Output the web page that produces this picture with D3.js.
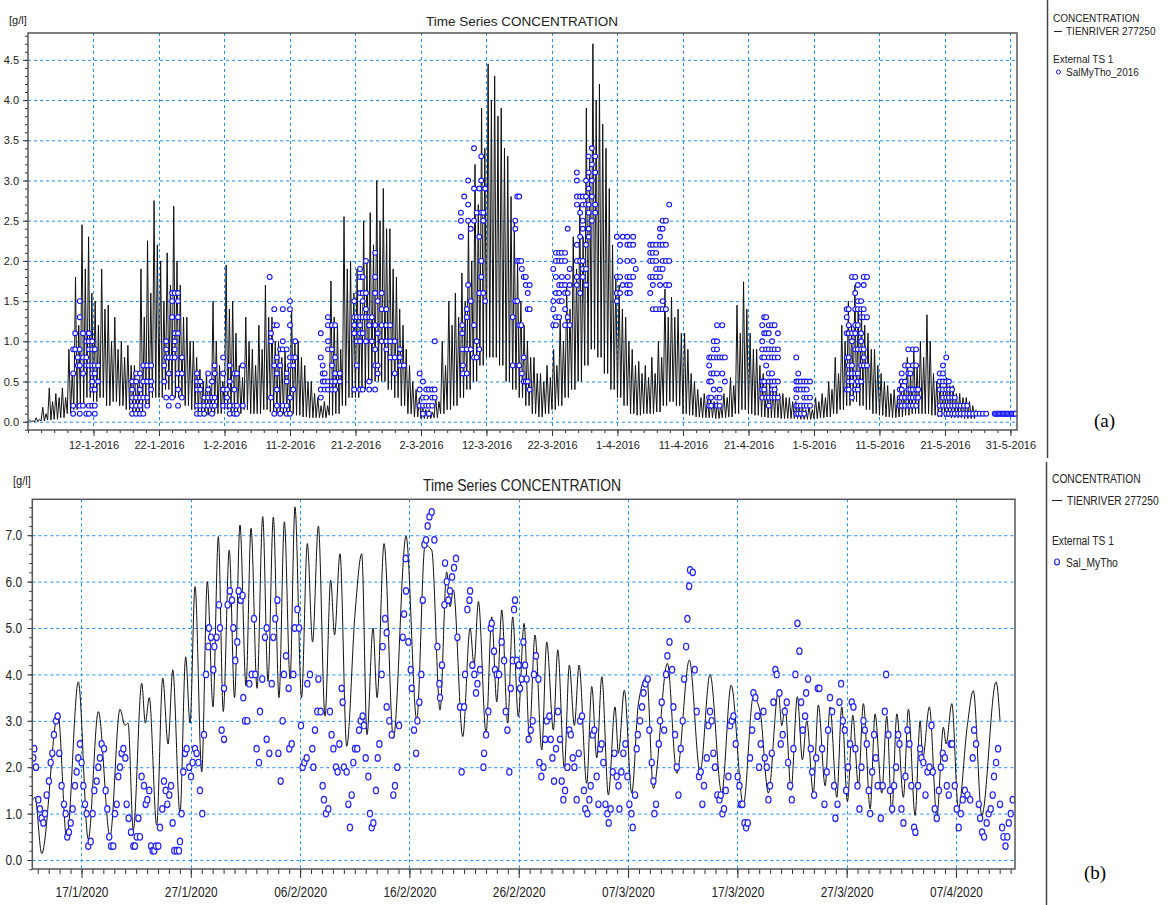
<!DOCTYPE html>
<html>
<head>
<meta charset="utf-8">
<script src="https://cdn.jsdelivr.net/npm/d3@7"></script>
<style>
body { margin: 0; background: #fff; }
svg text { font-family: "Liberation Sans", Arial, sans-serif; fill: #222; }
</style>
</head>
<body>
<svg id="chart" width="1169" height="905"></svg>
<script>
const DAY = 864e5;

// ---------- panel (a): 2016, days counted from 2 Jan 2016 ----------
const topStart = Date.UTC(2016, 0, 2);
const topLabels = ["12-1-2016", "22-1-2016", "1-2-2016", "11-2-2016", "21-2-2016", "2-3-2016", "12-3-2016",
  "22-3-2016", "1-4-2016", "11-4-2016", "21-4-2016", "1-5-2016", "11-5-2016", "21-5-2016", "31-5-2016"];

// TIENRIVER 277250 [g/l]: per day the higher tidal peak, the lower one, and the trough
const topPeaks = [0.02,0.05,0.18,0.42,0.35,0.42,0.9,1.8,2.45,2.3,
  1.5,1.9,1.45,1.3,1.0,0.95,0.7,1.9,2.25,2.75,
  2.0,2.1,2.68,1.7,1.3,1.0,0.65,0.6,1.5,0.7,
  1.95,1.5,0.7,1.3,0.9,1.2,1.7,1.3,1.0,0.9,
  1.4,1.0,0.7,0.5,0.3,0.25,1.75,1.2,2.55,2.0,
  1.9,2.5,2.6,3.0,2.9,2.4,1.8,1.2,0.7,0.4,
  0.2,0.15,0.3,1.0,1.5,1.6,1.85,2.5,3.2,3.9,
  4.45,4.3,3.9,3.3,2.5,1.5,1.0,0.8,0.6,0.7,
  0.9,1.3,1.7,2.3,2.7,3.9,4.7,4.2,3.4,2.2,
  1.7,1.3,0.9,0.75,0.7,0.8,1.0,1.65,1.55,1.4,
  1.1,0.6,0.4,0.35,0.3,0.25,0.35,0.55,1.45,1.74,
  1.1,0.9,0.6,0.5,0.45,0.35,0.3,0.25,0.2,0.2,
  0.3,0.35,0.5,0.8,1.2,1.5,1.7,1.4,1.1,0.9,
  0.6,0.45,0.4,0.5,0.8,0.9,1.0,1.33,0.6,0.5,
  0.55,0.45,0.35,0.3,0.2];
const topPeaks2 = [0.01,0.03,0.1,0.25,0.3,0.3,0.6,1.2,1.9,1.6,
  1.2,1.4,1.0,0.9,0.8,0.7,0.5,1.3,1.6,2.2,
  1.5,1.7,2.0,1.3,1.0,0.8,0.5,0.45,1.0,0.5,
  1.4,1.1,0.55,1.0,0.7,0.9,1.3,1.0,0.8,0.7,
  1.0,0.8,0.5,0.35,0.2,0.2,1.3,0.9,1.9,1.6,
  1.5,2.0,2.2,2.5,2.4,1.9,1.4,0.9,0.5,0.3,
  0.15,0.12,0.25,0.7,1.2,1.3,1.5,2.0,2.7,3.4,
  4.0,3.8,3.4,2.8,2.0,1.2,0.8,0.6,0.5,0.55,
  0.7,1.0,1.4,1.9,2.3,3.3,4.0,3.7,2.9,1.8,
  1.4,1.0,0.7,0.6,0.55,0.6,0.8,1.3,1.3,1.1,
  0.9,0.5,0.3,0.3,0.25,0.2,0.3,0.45,1.1,1.4,
  0.9,0.7,0.5,0.4,0.35,0.3,0.25,0.2,0.15,0.15,
  0.25,0.3,0.4,0.6,1.0,1.2,1.4,1.2,0.9,0.7,
  0.5,0.35,0.3,0.4,0.6,0.7,0.8,1.0,0.5,0.4,
  0.45,0.35,0.3,0.25,0.15];
const topLows = [0,0,0.01,0.02,0.03,0.05,0.1,0.15,0.2,0.3,
  0.25,0.3,0.2,0.25,0.2,0.15,0.1,0.1,0.2,0.3,
  0.3,0.4,0.3,0.3,0.2,0.15,0.1,0.08,0.1,0.1,
  0.15,0.1,0.1,0.15,0.1,0.1,0.15,0.12,0.1,0.1,
  0.1,0.08,0.06,0.05,0.05,0.05,0.08,0.1,0.2,0.3,
  0.3,0.4,0.5,0.5,0.5,0.4,0.3,0.2,0.1,0.06,
  0.04,0.04,0.05,0.1,0.15,0.2,0.3,0.4,0.5,0.7,
  0.8,0.8,0.7,0.5,0.4,0.3,0.2,0.1,0.06,0.1,
  0.15,0.2,0.3,0.4,0.5,0.7,0.9,0.8,0.6,0.4,
  0.3,0.2,0.1,0.08,0.1,0.1,0.12,0.2,0.25,0.2,
  0.1,0.08,0.06,0.05,0.05,0.04,0.05,0.06,0.1,0.15,
  0.1,0.08,0.06,0.05,0.05,0.04,0.04,0.04,0.03,0.03,
  0.04,0.05,0.06,0.1,0.15,0.2,0.25,0.2,0.15,0.1,
  0.08,0.06,0.05,0.06,0.08,0.1,0.1,0.1,0.08,0.06,
  0.06,0.05,0.05,0.04,0.04];

// SalMyTho_2016 samples: [day, readings taken around that day]
const topObs = [
  [6.9,[0.9,0.6,0.2,0.1]],[7.2,[1.1,0.9]],[7.6,[0.8,0.7]],[7.9,[1.5,1.3,0.9,0.7,0.2,0.1]],
  [8.4,[1.1,0.8,0.6,0.2]],[8.9,[1.0,0.8,0.7,0.1]],[9.3,[1.1,1.0,0.9,0.7,0.2,0.1]],
  [9.8,[1.0,0.9,0.7,0.6,0.5,0.4,0.2]],[10.2,[0.9,0.7,0.6,0.4,0.2,0.1]],[10.7,[0.7,0.5]],
  [15.9,[0.5,0.4,0.3,0.2,0.1]],[16.5,[0.6,0.5,0.3,0.2,0.1]],[17.1,[0.6,0.4,0.3,0.2,0.1]],
  [17.6,[0.7,0.5,0.3,0.1]],[18.2,[0.7,0.5,0.3,0.2]],[18.8,[0.7,0.5,0.4]],
  [20.8,[0.7,0.5]],[21.1,[1.0,0.9,0.8,0.3]],[21.5,[0.8,0.6,0.2]],[22.0,[1.6,1.5,1.3,0.8,0.3]],
  [22.4,[1.6,1.1,1.0,0.9,0.8]],[22.9,[1.6,1.5,1.3,1.1,0.6,0.4,0.2]],[23.5,[0.8,0.6,0.3]],
  [25.8,[0.6,0.5,0.4,0.2,0.1]],[26.3,[0.5,0.4,0.2,0.1]],[26.9,[0.3,0.2,0.1]],[27.5,[0.6,0.4,0.3,0.2]],
  [28.1,[0.5,0.3,0.2,0.1]],[28.5,[0.7,0.6,0.3,0.2]],[29.8,[0.8,0.6,0.4,0.2]],[30.4,[0.4,0.3,0.2]],
  [30.8,[0.7,0.5,0.2,0.1]],[31.5,[0.6,0.4,0.2,0.1]],[31.9,[0.6,0.2,0.1]],[32.8,[0.7,0.2]],
  [36.9,[1.8]],[37.1,[1.1,1.0,0.3]],[37.6,[1.4,1.2,0.7,0.1]],[38.0,[1.2,0.8,0.6,0.4,0.2]],
  [38.5,[0.9,0.7,0.1]],[38.9,[1.4,1.0,0.9,0.2]],[39.5,[0.9,0.6,0.5,0.2,0.1]],
  [40.0,[1.5,1.4,1.2,0.8,0.7,0.3,0.1]],[40.5,[0.8,0.7,0.4]],[40.8,[1.0,0.8]],
  [44.7,[1.1,0.8,0.4,0.3]],[45.0,[0.7,0.6,0.5]],[45.3,[0.6,0.5,0.4]],[45.8,[1.3,1.2,1.0,0.9,0.5,0.4]],
  [46.4,[1.2,0.9,0.7,0.5,0.4]],[46.9,[1.2,0.8,0.6,0.5,0.4]],[47.6,[0.6,0.5]],
  [49.8,[1.5,1.3,1.2,1.1,0.4]],[50.2,[1.3,1.0,0.7]],[50.7,[1.9,1.8,1.6,1.3,1.2,1.1,1.0,0.4]],
  [51.1,[1.8,1.6,1.5,1.3,1.1,0.4]],[51.6,[2.0,1.6,1.4,1.3,1.0]],[52.1,[1.3,1.2,0.5,0.4]],
  [52.5,[1.3,1.0]],[53.0,[2.1,1.8,1.6,1.2,0.9,0.7,0.4]],[53.4,[1.5,1.1,0.7,0.6]],
  [54.0,[1.6,1.4,1.2,1.0]],[54.7,[1.4,1.2,1.0,0.9]],[55.3,[1.2,1.0,0.8]],[56.0,[1.0,0.8,0.6]],
  [56.8,[0.9,0.8,0.7]],[57.4,[0.7]],
  [59.8,[0.6,0.4,0.2]],[60.3,[0.5,0.3,0.2,0.1]],[60.8,[0.4,0.3,0.2]],[61.2,[0.4,0.2,0.1]],
  [61.7,[0.4,0.3,0.2]],[62.1,[1.0,0.4,0.3]],
  [66.1,[2.6,2.5,2.3]],[66.3,[1.2,1.1,0.9]],[66.4,[0.7,0.6]],[66.6,[2.8]],[67.0,[1.4,1.3,0.9,0.6]],
  [67.2,[3.0,2.7,2.5,1.7]],[67.6,[2.4,1.5,0.9]],[68.1,[3.4,2.9,2.5,1.2,0.8]],[68.5,[2.6,1.0,0.8]],
  [68.9,[2.9,2.3,1.6,0.9]],[69.2,[3.3,3.0,2.6,2.0,1.8]],[69.5,[2.6,2.5,1.6]],[69.8,[2.9,1.5]],
  [74.0,[1.3,0.7]],[74.4,[2.5,2.4,1.5]],[74.7,[2.8,2.0,1.5]],[75.0,[2.8,2.0,1.2,0.7]],
  [75.3,[2.0,1.2]],[75.4,[1.9,0.6]],[75.7,[1.8,0.8,0.5]],[76.0,[1.8,1.7,0.5]],
  [76.3,[1.6,1.4,0.5]],[76.6,[1.7,1.4,0.4]],
  [80.2,[1.9,1.5,1.4,1.2]],[80.6,[2.1,2.0,1.8,1.6,1.3,1.2]],[81.1,[2.1,2.0,1.7,1.6,1.5,1.3]],
  [81.5,[2.1,2.0,1.8,1.7,1.5]],[82.0,[2.1,2.0,1.7,1.6,1.4,1.2]],[82.4,[2.4,1.8,1.6,1.3]],
  [82.7,[1.9,1.7,1.2]],[83.8,[3.1,3.0,2.8,2.7,2.2,2.0,1.8,1.7]],[84.3,[2.8,2.6,2.3,2.0,1.6]],
  [84.7,[2.8,2.7,2.5,2.4,2.0,1.9,1.8]],[85.2,[3.0,2.8,2.7,2.2,1.9,1.7]],
  [85.6,[3.3,3.1,2.9,2.7,2.6,2.4,2.3]],[86.1,[3.4,3.2,3.0,2.8,2.5]],[86.6,[3.3,3.1,2.7,2.6]],
  [89.9,[2.3,1.8,1.6,1.5]],[90.4,[2.2,2.0,1.8,1.6]],[90.8,[2.3,1.7]],[91.5,[2.3,2.2,2.0,1.8,1.7,1.6]],
  [91.9,[2.2,1.8,1.7,1.6]],[92.4,[2.3,2.2,2.0,1.8]],[92.8,[1.9]],
  [95.0,[2.2,2.1,2.0,1.8,1.6]],[95.4,[2.2,2.1,2.0,1.8,1.7,1.4]],[95.9,[2.2,2.1,2.0,1.9,1.8,1.4]],
  [96.5,[2.4,2.3,2.2,1.9,1.8,1.7,1.4]],[96.9,[2.5,2.4,2.2,2.0,1.9,1.5,1.4]],
  [97.4,[2.5,2.2,2.0,1.7,1.4]],[97.9,[2.7,2.0,1.7]],
  [104.0,[0.8,0.7,0.5,0.3,0.2]],[104.3,[0.8,0.6,0.5,0.3,0.2]],[104.7,[1.0,0.9,0.8,0.6,0.4]],
  [105.2,[1.2,1.0,0.9,0.8,0.6,0.3,0.2]],[105.6,[0.8,0.4,0.3,0.2]],[106.0,[1.2,0.8,0.6]],[106.4,[0.8,0.5]],
  [112.1,[1.2,1.0,0.9,0.8,0.5,0.4,0.3]],[112.4,[1.3,1.1,0.8,0.5,0.4]],[112.7,[1.3,1.1,0.9,0.7,0.3]],
  [113.1,[1.2,1.1,0.9,0.8,0.6,0.5,0.3,0.2]],[113.6,[1.2,1.0,0.9,0.8,0.6,0.5,0.4,0.3]],
  [114.0,[1.2,0.9,0.8,0.5,0.4,0.3]],[114.5,[1.1,0.9,0.8,0.5,0.3]],
  [117.3,[0.8,0.5,0.4,0.3,0.2,0.1]],[117.6,[0.6,0.5,0.4,0.2,0.1]],[118.0,[0.5,0.4,0.2,0.1]],
  [118.5,[0.5,0.4,0.3,0.2,0.1]],[118.9,[0.5,0.4,0.3,0.2]],[119.4,[0.5,0.3,0.2]],
  [125.0,[1.4,1.3,1.1,0.8,0.4]],[125.3,[1.4,1.2,1.1,0.8,0.7,0.6,0.5,0.4]],
  [125.8,[1.8,1.1,1.0,0.7,0.6,0.5,0.3]],[126.3,[1.8,1.6,1.4,1.2,1.1,0.9,0.6,0.4]],
  [126.7,[1.7,1.5,1.4,1.2,0.9,0.6,0.5,0.4]],[127.2,[1.5,1.4,1.3,1.1,1.0,0.9,0.7,0.5]],
  [127.6,[1.8,1.7,1.4,1.3,0.9,0.8,0.7]],[128.1,[1.8,1.3,0.7]],
  [133.1,[0.4,0.3,0.2]],[133.4,[0.6,0.5,0.4,0.3,0.2]],[133.9,[0.7,0.5,0.3,0.2]],
  [134.4,[0.9,0.7,0.6,0.4,0.3,0.2]],[134.7,[0.6,0.4,0.3,0.2]],[135.1,[0.9,0.7,0.4,0.3,0.2]],
  [135.6,[0.9,0.7,0.4,0.3,0.2]],[135.9,[0.4,0.3]],
  [139.2,[0.6,0.5,0.4,0.2,0.1]],[139.7,[0.7,0.6,0.5,0.4,0.3,0.2]],[140.2,[0.8,0.5,0.4,0.3,0.2,0.1]],
  [140.6,[0.5,0.4,0.3,0.2,0.1]],[141.1,[0.4,0.3,0.2,0.1]],[141.5,[0.3,0.2,0.1]],[142.0,[0.2,0.1]],
  [142.4,[0.2,0.1]],[142.9,[0.2,0.1]],[143.4,[0.2,0.1]],[143.8,[0.1]],[144.3,[0.1]],[144.8,[0.1]],
  [145.3,[0.1]],[145.8,[0.1]],[146.3,[0.1]],[147.6,[0.1]],[147.8,[0.1]],[148.0,[0.1]],[148.2,[0.1]],
  [148.4,[0.1]],[148.6,[0.1]],[148.8,[0.1]],[149.0,[0.1]],[149.2,[0.1]],[149.4,[0.1]],[149.6,[0.1]],
  [149.8,[0.1]],[150.0,[0.1]],[150.2,[0.1]],[150.4,[0.1]],[150.6,[0.1]],[150.8,[0.1]]
];

// ---------- panel (b): 2020, days counted from 12 Jan 2020 12:00 ----------
const botStart = Date.UTC(2020, 0, 12, 12);
const botLabels = ["17/1/2020", "27/1/2020", "06/2/2020", "16/2/2020", "26/2/2020",
  "07/3/2020", "17/3/2020", "27/3/2020", "07/4/2020"];

// TIENRIVER 277250 turning points [day, g/l]
const botLine = [[0.06,1.3],[0.25,1.35],[0.86,0.14],[2.35,3.15],[3.15,0.45],[4.21,3.84],[5.12,0.45],
  [6.04,3.2],[7.11,0.5],[8.02,3.25],[8.48,2.9],[8.76,2.95],[9.24,0.65],[10.01,3.81],[10.34,2.95],
  [10.7,3.5],[11.38,0.75],[11.93,3.92],[12.42,2.5],[12.85,4.1],[13.51,1.0],[14.03,4.38],[14.43,2.95],
  [14.89,5.89],[15.5,1.9],[16.01,6.0],[16.53,3.3],[17.02,6.97],[17.47,3.2],[18.02,6.68],[18.5,3.5],
  [19.0,7.22],[19.55,3.75],[20.01,7.15],[20.56,3.7],[21.08,7.4],[21.56,3.85],[22.05,7.39],[22.57,3.5],
  [23.06,7.29],[23.58,3.9],[24.03,7.61],[24.63,3.5],[25.16,6.82],[25.64,4.7],[26.17,7.2],[26.78,3.1],
  [27.3,6.03],[27.65,4.85],[28.15,6.6],[28.76,2.45],[29.52,5.3],[30.14,6.6],[30.62,2.7],[31.17,5.0],
  [31.54,3.5],[32.18,6.82],[33.03,2.62],[34.19,6.98],[35.17,3.02],[35.93,6.79],[36.54,6.68],[37.3,3.23],
  [37.91,6.21],[38.22,5.46],[38.52,5.82],[39.38,2.66],[40.05,5.0],[40.41,4.2],[40.81,5.57],[41.51,2.73],
  [42.03,5.24],[42.49,3.41],[42.95,5.39],[43.49,2.95],[43.95,5.24],[44.46,3.09],[44.99,5.1],[45.47,2.66],
  [45.99,4.85],[46.61,2.37],[47.06,4.7],[47.67,2.8],[48.07,4.53],[48.67,1.98],[49.13,4.2],[49.59,2.9],
  [50.02,4.2],[50.72,1.65],[51.18,3.74],[51.64,2.2],[52.1,3.95],[52.7,1.4],[53.31,3.3],[53.62,2.3],
  [54.16,3.66],[54.84,1.44],[55.45,3.38],[56.21,3.95],[56.82,1.54],[58.1,4.24],[58.96,1.87],[60.11,4.31],
  [61.09,1.9],[62.0,4.0],[63.07,1.44],[63.93,3.77],[65.05,1.19],[65.96,3.52],[66.58,3.2],[67.34,1.44],
  [68.25,3.63],[68.56,2.9],[68.87,3.3],[69.41,1.5],[69.99,3.52],[70.45,2.16],[70.85,3.0],[71.45,1.44],
  [71.91,3.34],[72.53,1.6],[72.98,3.3],[73.6,1.35],[74.05,3.3],[74.57,1.26],[75.06,3.12],[75.57,1.6],
  [76.03,3.37],[76.65,1.1],[77.1,3.15],[77.71,1.44],[78.17,3.1],[78.63,1.0],[79.09,3.15],[79.69,1.35],
  [80.15,3.25],[80.76,0.96],[81.22,3.0],[81.46,2.2],[82.07,3.3],[82.75,0.93],[83.35,2.86],[83.6,2.5],
  [84.12,3.37],[84.72,1.1],[85.54,2.9],[86.09,3.65],[86.86,0.96],[88.17,3.84],[88.53,3.0]];

// Sal_MyTho samples [day, g/l]
const botObs = [[0.09,2.2],[0.18,2.4],[0.34,2.0],[0.55,1.3],[0.7,1.1],[0.85,0.9],[1.01,0.8],[1.16,1.0],
  [1.31,1.4],[1.52,1.7],[1.68,2.1],[1.83,2.3],[1.98,2.7],[2.17,3.0],[2.32,3.1],[2.47,2.3],[2.68,1.6],
  [2.9,1.2],[3.05,1.0],[3.2,0.5],[3.35,0.6],[3.51,0.8],[3.69,1.1],[3.9,1.6],[4.06,1.9],[4.21,2.2],
  [4.36,2.5],[4.51,2.1],[4.67,1.6],[4.82,1.2],[4.97,1.0],[5.12,0.3],[5.34,0.4],[5.52,1.0],[5.67,1.5],
  [5.89,1.7],[6.04,2.0],[6.19,2.2],[6.34,2.5],[6.56,2.4],[6.71,1.5],[6.86,1.1],[7.04,0.5],[7.2,0.3],
  [7.41,0.3],[7.56,1.0],[7.72,1.2],[7.87,1.8],[8.02,2.0],[8.17,2.3],[8.33,2.4],[8.51,2.2],[8.63,1.2],
  [8.81,0.9],[9.03,0.6],[9.24,0.3],[9.39,0.3],[9.55,0.5],[9.7,0.9],[9.85,0.5],[10.0,1.8],[10.22,1.6],
  [10.37,1.2],[10.52,1.3],[10.7,1.5],[10.86,0.3],[11.01,0.2],[11.16,0.2],[11.31,0.3],[11.53,0.3],
  [11.68,0.7],[11.89,1.1],[12.05,1.7],[12.2,1.5],[12.35,1.2],[12.53,1.4],[12.69,1.6],[12.84,0.8],
  [12.99,0.2],[13.21,0.2],[13.42,0.2],[13.51,0.4],[13.66,1.0],[13.81,1.9],[13.97,2.3],[14.12,2.4],
  [14.36,2.0],[14.52,1.8],[14.67,2.1],[14.88,2.4],[15.03,2.3],[15.19,2.1],[15.34,1.5],[15.55,1.0],
  [15.71,2.7],[17.32,2.8],[17.54,2.6],[19.3,3.5],[19.46,3.0],[19.67,3.0],[20.52,2.4],[20.74,2.1],
  [20.83,3.2],[21.44,2.6],[21.68,2.3],[22.51,2.3],[22.72,1.7],[22.9,3.0],[23.51,2.4],[23.73,2.5],
  [24.58,2.9],[24.73,2.0],[24.89,2.1],[25.1,2.2],[25.62,2.4],[25.71,2.0],[25.86,2.8],[26.07,3.2],
  [26.38,3.2],[26.56,1.6],[26.68,1.3],[26.87,1.0],[27.08,1.1],[27.23,3.2],[27.38,2.7],[27.54,2.4],
  [27.78,2.0],[27.93,1.9],[28.09,2.5],[28.39,3.4],[28.51,2.0],[28.76,1.9],[28.91,1.2],[29.06,0.7],
  [29.22,1.4],[29.37,2.1],[29.52,2.4],[29.73,2.4],[29.89,2.8],[30.04,3.0],[30.22,3.1],[30.34,2.9],
  [30.5,2.2],[30.74,1.8],[30.89,1.0],[31.05,0.7],[31.2,0.8],[31.44,1.5],[31.6,2.2],[31.75,2.5],
  [32.42,3.3],[32.66,3.0],[32.88,2.7],[33.03,1.4],[33.18,1.6],[33.39,2.0],[33.55,2.9],
  [15.89,4.0],[16.1,4.6],[16.16,5.0],[16.35,4.8],[16.56,4.1],[16.65,4.6],[16.86,4.8],[17.08,5.5],
  [17.17,5.0],[17.54,3.7],[17.87,5.5],[18.08,5.8],[18.27,5.6],[18.39,5.0],[18.57,4.3],[18.75,4.7],
  [18.88,5.8],[19.06,5.6],[19.24,5.7],[19.85,3.8],[20.07,4.0],[20.28,5.2],[20.4,4.0],[21.04,3.9],
  [21.29,4.8],[21.44,5.0],[21.9,3.8],[22.05,4.8],[22.23,5.2],[22.42,5.6],[23.02,4.0],[23.21,4.4],
  [23.45,3.7],[23.88,4.0],[24.0,5.0],[24.25,5.4],[24.4,5.0],[25.16,3.8],[25.4,4.0],[26.17,3.9],
  [28.3,3.7],[31.96,4.0],[32.05,4.6],[32.27,5.2],[32.42,4.9],
  [33.89,4.8],[34.01,5.3],[34.19,5.8],[34.16,6.5],[34.4,4.7],[34.62,4.1],[34.71,3.7],[34.92,2.8],
  [35.11,2.3],[35.23,3.0],[35.41,3.4],[35.59,4.0],[35.72,5.6],[35.87,6.8],[36.02,6.9],[36.17,7.2],
  [36.33,7.4],[36.54,7.5],[36.78,6.9],[37.06,4.6],[37.24,3.8],[37.3,3.5],[37.48,4.2],[37.7,5.5],
  [37.76,6.4],[37.91,6.0],[38.06,5.6],[38.21,5.8],[38.4,6.1],[38.58,6.3],[38.76,6.5],[38.89,4.8],
  [39.13,3.3],[39.28,1.9],[39.5,3.3],[39.59,4.0],[39.8,5.4],[39.99,5.6],[40.05,5.8],[40.26,4.2],
  [40.44,4.0],[40.59,3.6],[40.72,3.8],[40.96,4.1],[41.27,2.0],[41.33,2.3],[41.51,2.7],[41.72,3.2],
  [41.94,5.0],[42.03,5.1],[42.24,4.5],[42.33,4.1],[42.49,4.0],[42.7,4.0],[42.94,4.7],[43.16,4.3],
  [43.31,3.2],[43.46,2.8],[43.64,1.9],[43.77,3.7],[43.95,4.3],[44.07,5.4],[44.16,5.6],[44.32,4.3],
  [44.5,4.2],[44.62,3.7],[44.77,3.9],[44.93,4.7],[45.08,4.2],[45.23,3.9],[45.41,2.6],[45.6,2.8],
  [45.78,3.0],[45.9,4.0],[46.08,4.4],[46.3,3.9],[46.39,2.1],[46.57,1.8],[46.76,2.0],[46.91,2.6],
  [47.06,3.0],[47.3,3.1],[47.43,2.6],[47.58,2.2],[47.73,1.7],[47.91,2.4],[48.09,3.2],[48.28,2.6],
  [48.43,1.7],[48.58,1.3],[48.74,1.5],[48.95,2.0],[49.13,2.8],[49.26,2.7],[49.44,2.2],[49.59,2.0],
  [49.8,1.3],[49.99,2.3],[50.11,3.0],[50.29,3.1],[50.47,1.5],[50.59,1.1],[50.78,1.0],[50.96,1.3],
  [51.08,1.6],[51.27,2.7],[51.42,2.8],[51.63,1.8],[51.79,1.2],[51.94,2.4],[52.09,2.5],[52.24,2.1],
  [52.43,1.2],[52.61,1.0],[52.73,0.8],[52.91,1.1],[53.1,1.9],[53.25,2.3],[53.46,1.8],[53.62,1.6],
  [53.71,1.1],[53.89,1.9],[54.07,2.3],[54.26,2.5],[54.44,1.8],[54.62,1.2],[54.81,1.0],[54.93,0.7],
  [55.14,1.4],[55.29,2.4],[55.39,2.7],[55.6,3.0],[55.78,3.3],[55.91,3.6],[56.09,3.8],[56.3,3.9],
  [56.45,2.8],[56.67,2.1],[56.82,1.7],[56.91,1.0],[57.06,1.2],[57.31,2.5],[57.43,3.0],[57.58,3.4],
  [57.8,2.8],[57.98,4.0],[58.1,4.4],[58.29,4.7],[58.53,4.1],[58.65,3.3],[58.8,2.7],[58.96,2.0],
  [59.11,1.4],[59.32,2.4],[59.5,3.0],[59.63,3.9],[59.81,4.6],[59.93,5.2],[60.09,5.9],
  [60.17,6.25],[60.42,6.2],[60.6,4.1],[60.78,3.2],[60.99,1.8],[61.15,1.9],[61.3,1.2],[61.45,1.6],
  [61.7,2.2],[61.85,2.9],[62.0,3.2],[62.15,3.0],[62.31,2.3],[62.46,2.0],[62.67,1.4],[62.86,1.3],
  [62.98,1.4],[63.13,1.0],[63.28,1.1],[63.44,1.5],[63.68,1.8],[63.83,2.9],[63.99,3.0],[64.14,3.1],
  [64.35,2.5],[64.53,1.8],[64.69,1.6],[64.81,1.2],[64.96,1.2],[65.15,0.8],[65.3,0.7],[65.45,0.8],
  [65.66,2.2],[65.85,2.8],[65.97,3.6],[66.15,3.5],[66.33,3.1],[66.49,2.0],[66.64,2.5],[66.89,3.2],
  [67.01,2.2],[67.19,2.0],[67.34,1.3],[67.49,1.6],[67.65,2.3],[67.8,3.4],[67.98,4.1],[68.1,4.0],
  [68.35,3.6],[68.47,2.5],[68.65,2.7],[68.84,3.2],[69.02,3.4],[69.14,2.1],[69.33,1.6],[69.48,1.3],
  [69.63,2.4],[69.81,4.0],[70.0,5.1],[70.18,4.5],[70.33,3.4],[70.48,2.8],[70.7,3.1],[70.79,3.6],
  [70.97,3.9],[71.22,2.4],[71.34,1.9],[71.52,1.4],[71.71,2.2],[71.86,3.7],[72.01,3.7],[72.25,2.4],
  [72.47,1.2],[72.68,1.9],[72.8,2.8],[72.98,3.5],[73.17,3.2],[73.35,1.6],[73.47,0.9],[73.66,1.2],
  [73.84,3.4],[73.99,3.8],[74.15,3.0],[74.33,2.8],[74.45,1.5],[74.63,2.0],[74.81,2.5],[74.97,3.4],
  [75.12,3.3],[75.3,2.4],[75.49,1.6],[75.67,1.1],[75.85,2.0],[76.04,3.0],[76.16,2.8],[76.34,2.5],
  [76.52,1.5],[76.65,1.0],[76.83,1.9],[77.01,2.7],[77.16,2.2],[77.34,1.6],[77.62,0.9],[77.8,1.6],
  [77.99,3.2],[78.11,4.0],[78.32,2.7],[78.47,1.5],[78.66,1.1],[78.84,1.6],[79.02,2.0],[79.21,2.7],
  [79.33,2.5],[79.51,1.1],[79.69,0.8],[79.88,1.8],[80.06,2.8],[80.24,2.5],[80.42,1.6],[80.67,0.7],
  [80.79,0.6],[81.03,1.6],[81.22,2.4],[81.34,2.2],[81.52,2.1],[81.71,1.4],[81.89,1.9],[82.07,2.0],
  [82.26,2.9],[82.38,1.9],[82.56,1.1],[82.74,0.9],[82.93,1.5],[83.11,2.0],[83.29,2.3],[83.48,2.2],
  [83.66,1.6],[83.84,1.4],[84.02,2.5],[84.15,2.5],[84.39,1.6],[84.57,1.1],[84.75,0.7],[84.94,1.0],
  [85.12,1.3],[85.31,1.5],[85.55,1.4],[85.8,1.3],[86.03,2.2],[86.16,2.8],[86.34,2.5],[86.59,1.2],
  [86.71,0.9],[86.89,0.6],[87.07,0.5],[87.31,0.8],[87.49,1.0],[87.68,1.1],[87.86,1.4],[87.98,1.8],
  [88.17,2.1],[88.35,2.4],[88.53,1.2],[88.72,0.7],[88.84,0.5],[89.03,0.3],[89.2,0.5],[89.33,0.8],
  [89.51,1.0],[89.69,1.3]];

const svg = d3.select("#chart");
const gridColor = "#1e8fff";
const NARROW = 0.82;   // horizontal squeeze for the condensed lettering of panel (b)

// draws grid, ticks, labels; returns scales
function panel(o) {
  const x = d3.scaleUtc().domain(o.xDomain).range([o.left, o.right]);
  const y = d3.scaleLinear().domain(o.yDomain).range([o.bottom, o.top]);
  const g = svg.append("g");

  g.append("g").selectAll("line").data(o.yMajor).join("line")
    .attr("x1", o.left).attr("x2", o.right)
    .attr("y1", d => y(d) + 0.5).attr("y2", d => y(d) + 0.5)
    .attr("stroke", gridColor).attr("stroke-dasharray", "3,3");
  g.append("g").selectAll("line").data(o.xMajor).join("line")
    .attr("y1", o.top).attr("y2", o.bottom)
    .attr("x1", d => Math.round(x(d)) + 0.5).attr("x2", d => Math.round(x(d)) + 0.5)
    .attr("stroke", gridColor).attr("stroke-dasharray", "3,3");

  const style = sel => {
    sel.attr("font-size", null).attr("font-family", null);
    sel.select(".domain").remove();
    sel.selectAll("line").attr("stroke", "#333");
    sel.selectAll("text").style("font-size", o.tickFont + "px").attr("fill", "#333");
    if (o.squeeze) sel.selectAll("text").attr("transform", `scale(${o.squeeze},1)`);
  };
  g.append("g").attr("transform", `translate(0,${o.bottom})`)
    .call(d3.axisBottom(x).tickValues(o.xMinor).tickSize(o.minorX).tickFormat("")).call(style);
  g.append("g").attr("transform", `translate(0,${o.bottom})`)
    .call(d3.axisBottom(x).tickValues(o.xMajor).tickSize(o.majorX).tickPadding(o.padX)
      .tickFormat((d, i) => o.xLabels[i])).call(style);
  g.append("g").attr("transform", `translate(${o.left},0)`)
    .call(d3.axisLeft(y).tickValues(o.yMinor).tickSize(3).tickFormat("")).call(style);
  g.append("g").attr("transform", `translate(${o.left},0)`)
    .call(d3.axisLeft(y).tickValues(o.yMajor).tickSize(5).tickPadding(o.padY)
      .tickFormat(d3.format(".1f"))).call(style);

  svg.append("clipPath").attr("id", o.id + "-clip")
    .append("rect").attr("x", o.left).attr("y", o.top)
    .attr("width", o.right - o.left).attr("height", o.bottom - o.top);
  const plot = g.append("g").attr("clip-path", `url(#${o.id}-clip)`);
  return { x, y, g, plot };
}

function frame(g, o) {
  g.append("rect").attr("x", o.left).attr("y", o.top)
    .attr("width", o.right - o.left).attr("height", o.bottom - o.top)
    .attr("fill", "none").attr("stroke", "#555").attr("stroke-width", 1.5);
}

// condensed text, squeezed horizontally around its anchor point
function ntext(parent, x, y, size, str, anchor) {
  return parent.append("text")
    .attr("transform", `translate(${x},${y}) scale(${NARROW},1)`)
    .attr("text-anchor", anchor || "start")
    .style("font-size", size + "px").text(str);
}

// ---------- (a) ----------
const topDate = d => new Date(topStart + d * DAY);
const A = { id: "pa", left: 28, right: 1017, top: 33, bottom: 430,
  xDomain: [topDate(0), topDate(151)], yDomain: [-0.103, 4.834],
  xMajor: topLabels.map((_, i) => topDate(10 + 10 * i)),
  xMinor: d3.range(0, 152, 2).map(topDate), xLabels: topLabels,
  yMajor: d3.range(0, 4.51, 0.5), yMinor: d3.range(-1, 49).map(v => v / 10),
  minorX: 3, majorX: 6, padX: 5, padY: 4, tickFont: 11 };
const pa = panel(A);

const topPts = topPeaks.flatMap((p, i) =>
  [[i, topLows[i]], [i + 0.25, p], [i + 0.5, topLows[i]], [i + 0.75, topPeaks2[i]]]);
pa.plot.append("path").datum(topPts)
  .attr("fill", "none").attr("stroke", "#111").attr("stroke-width", 1)
  .attr("stroke-linejoin", "round")
  .attr("d", d3.line().x(d => pa.x(topDate(d[0]))).y(d => pa.y(d[1])));

const topObsFlat = topObs.flatMap(([d, vals]) => vals.map(v => [d, v]));
pa.plot.append("g").selectAll("circle").data(topObsFlat).join("circle")
  .attr("cx", d => pa.x(topDate(d[0]))).attr("cy", d => pa.y(d[1])).attr("r", 2.4)
  .attr("fill", "#fff").attr("stroke", "#1515ff").attr("stroke-width", 1.1);
frame(pa.g, A);

pa.g.append("text").attr("x", 522).attr("y", 26).attr("text-anchor", "middle")
  .style("font-size", "13.5px").text("Time Series CONCENTRATION");
pa.g.append("text").attr("x", 9).attr("y", 24).style("font-size", "11px").text("[g/l]");

// legend (a)
const la = svg.append("g");
la.append("line").attr("x1", 1047.5).attr("x2", 1047.5).attr("y1", 0).attr("y2", 458)
  .attr("stroke", "#444").attr("stroke-width", 1.5);
la.append("text").attr("x", 1053).attr("y", 22).style("font-size", "10px").text("CONCENTRATION");
la.append("line").attr("x1", 1054).attr("x2", 1062).attr("y1", 31.5).attr("y2", 31.5).attr("stroke", "#222");
la.append("text").attr("x", 1066).attr("y", 35).style("font-size", "10px").text("TIENRIVER 277250");
la.append("text").attr("x", 1053).attr("y", 63).style("font-size", "10px").text("External TS 1");
la.append("circle").attr("cx", 1058.5).attr("cy", 72).attr("r", 2).attr("fill", "#fff").attr("stroke", "#1515ff");
la.append("text").attr("x", 1066).attr("y", 76).style("font-size", "10px").text("SalMyTho_2016");
la.append("text").attr("x", 1094).attr("y", 427).style("font-family", "'Liberation Serif', serif")
  .style("font-size", "19px").style("fill", "#000").text("(a)");

// ---------- (b) ----------
const botDate = d => new Date(botStart + d * DAY);
const firstTick = Date.UTC(2020, 0, 17);
const B = { id: "pb", left: 32.3, right: 1015, top: 499.3, bottom: 869,
  xDomain: [botDate(0), botDate(89.9)], yDomain: [-0.194, 7.774],
  xMajor: botLabels.map((_, i) => new Date(firstTick + 10 * i * DAY)),
  xMinor: d3.range(-4, 86).map(i => new Date(firstTick + i * DAY)), xLabels: botLabels,
  yMajor: d3.range(0, 7.01, 1), yMinor: d3.range(-1, 39).map(v => v / 5),
  minorX: 5, majorX: 9, padX: 9, padY: 7.5, tickFont: 14.5, squeeze: NARROW };
const pb = panel(B);

pb.plot.append("path").datum(botLine)
  .attr("fill", "none").attr("stroke", "#111").attr("stroke-width", 1)
  .attr("d", d3.line().curve(d3.curveMonotoneX).x(d => pb.x(botDate(d[0]))).y(d => pb.y(d[1])));

pb.plot.append("g").selectAll("ellipse").data(botObs).join("ellipse")
  .attr("cx", d => pb.x(botDate(d[0]))).attr("cy", d => pb.y(d[1]))
  .attr("rx", 2.6).attr("ry", 3.3)
  .attr("fill", "#fff").attr("stroke", "#2323ff").attr("stroke-width", 1.2);
frame(pb.g, B);

ntext(pb.g, 522, 491, 17, "Time Series CONCENTRATION", "middle");
ntext(pb.g, 13, 485, 13.5, "[g/l]");

// legend (b)
const lb = svg.append("g");
lb.append("line").attr("x1", 1046.5).attr("x2", 1046.5).attr("y1", 462).attr("y2", 905)
  .attr("stroke", "#444").attr("stroke-width", 1.5);
ntext(lb, 1052, 483, 12.5, "CONCENTRATION");
lb.append("line").attr("x1", 1052).attr("x2", 1062).attr("y1", 500.5).attr("y2", 500.5).attr("stroke", "#222");
ntext(lb, 1067, 505, 12.5, "TIENRIVER 277250");
ntext(lb, 1052, 545, 12.5, "External TS 1");
lb.append("ellipse").attr("cx", 1057).attr("cy", 562).attr("rx", 2.4).attr("ry", 3)
  .attr("fill", "#fff").attr("stroke", "#2323ff").attr("stroke-width", 1.2);
ntext(lb, 1066, 567, 12.5, "Sal_MyTho");
svg.append("text").attr("x", 1084).attr("y", 879).style("font-family", "'Liberation Serif', serif")
  .style("font-size", "19px").style("fill", "#000").text("(b)");
</script>
</body>
</html>
